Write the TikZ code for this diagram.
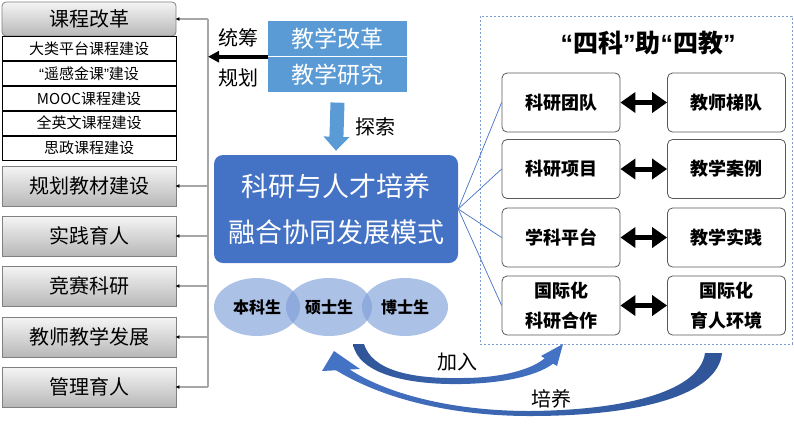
\documentclass[tikz,border=0pt]{standalone}
\usepackage{fontspec}
\setmainfont{Noto Sans CJK SC}
\newfontfamily\quotefont{Liberation Sans}
\usepackage{xcolor}
\usetikzlibrary{positioning}
\usetikzlibrary{arrows.meta}
\usetikzlibrary{shapes.geometric,calc}

\definecolor{lineblue}{HTML}{4472C4}
\definecolor{lightblue}{HTML}{5B9BD5}
\definecolor{darkblue}{HTML}{2F5597}
\definecolor{ellblue}{HTML}{7F9FD9}

\newcommand*{\openq}{{\quotefont “}}
\newcommand*{\closeq}{{\quotefont ”}}

\tikzset{
  graybox/.style={draw=black!50, line width=0.8pt, top color=black!4, bottom color=black!28,
    minimum width=174pt, minimum height=40pt, inner sep=0pt, font=\fontsize{20}{24}\selectfont},
  subbox/.style={draw=black, line width=0.8pt, fill=white, minimum width=174pt,
    minimum height=24pt, inner sep=0pt, font=\fontsize{15}{18}\selectfont},
  bluebox/.style={fill=lightblue, text=white, minimum width=139pt, minimum height=35pt,
    inner sep=0pt, font=\fontsize{23}{26}\selectfont},
  studell/.style={ellipse, fill=ellblue, fill opacity=0.65, text opacity=1, minimum width=86pt,
    minimum height=58pt, inner sep=0pt, font=\fontsize{16}{18}\selectfont\bfseries},
  kebox/.style={draw=black!65, line width=0.8pt, rounded corners=5pt, fill=white,
    minimum width=118pt, minimum height=59pt, inner sep=0pt, align=center,
    font=\fontsize{18}{30}\selectfont\bfseries},
  busarrow/.style={draw=black!35, line width=1.5pt, shorten >=-1pt,
    -{Latex[length=4pt,width=4pt,black]}},
  fanline/.style={draw=lineblue, line width=0.7pt},
  twoway/.style={line width=5pt, {Triangle[length=15pt,width=20pt]}-{Triangle[length=15pt,width=20pt]}},
  labeltext/.style={font=\fontsize{20}{22}\selectfont}
}

\begin{document}
\begin{tikzpicture}[x=1pt, y=-1pt]
\useasboundingbox (0,0) rectangle (794,424);

% left column
\node[graybox, rounded corners=4pt, minimum height=34pt] (kcgg) at (89,19) {课程改革};
\node[subbox, below=0pt of kcgg] (dlpt) {大类平台课程建设};
\node[subbox, below=0pt of dlpt] (ygjk) {\openq 遥感金课\closeq 建设};
\node[subbox, below=0pt of ygjk] (mooc) {MOOC课程建设};
\node[subbox, below=0pt of mooc] (qywk) {全英文课程建设};
\node[subbox, below=0pt of qywk] (szkc) {思政课程建设};

\foreach \nm/\txt/\yy in {ghjc/规划教材建设/186, sjyr/实践育人/236, jsky/竞赛科研/286,
    jsfz/教师教学发展/337, glyr/管理育人/387}
  \node[graybox] (\nm) at (89,\yy) {\txt};

% bus line
\coordinate (bus) at (208,0);
\draw[draw=black!35, line width=1.5pt] (bus |- kcgg.east) -- (bus |- glyr.east);
\foreach \nm in {kcgg, ghjc, sjyr, jsky, jsfz, glyr}
  \draw[busarrow] (bus |- \nm.east) -- (\nm.east);

% teaching reform
\node[bluebox] (jxgg) at (337.5,38.5) {教学改革};
\node[bluebox, below=1pt of jxgg] (jxyj) {教学研究};
\coordinate (jxmid) at ($(jxgg.south west)!0.5!(jxyj.north west)$);
\draw[line width=4pt, -{Triangle[length=11pt,width=11pt]}] (jxmid) -- (jxmid -| bus);
\node[labeltext] (tc) at (238,38) {统筹};
\node[labeltext] (gh) at (238,78) {规划};

% main model
\node[fill=lineblue, rounded corners=9pt, minimum width=244pt, minimum height=108pt,
    text=white, align=center, font=\fontsize{27}{46}\selectfont] (main) at (336,209)
    {科研与人才培养\\融合协同发展模式};

\draw[lightblue, line width=14pt, -{Triangle[length=14pt,width=25pt]}]
    ([yshift=-10pt]jxyj.south) -- ([yshift=4pt]main.north)
    node[midway, right=8pt, text=black, labeltext] (ts) {探索};

% students
\node[studell] (bks) at (257,307) {本科生};
\node[studell] (sss) at (329,307) {硕士生};
\node[studell] (bss) at (405,307) {博士生};

% four research / four teaching
\node[draw=lineblue!70, dash pattern=on 2pt off 2pt, line width=0.8pt, minimum width=312pt,
    minimum height=328pt, anchor=north west, inner sep=0pt] (frame) at (480,16) {};
\node[font=\fontsize{25}{28}\selectfont\bfseries] (title) at (648,43) {\openq 四科\closeq 助\openq 四教\closeq};

\foreach \ln/\lt/\rn/\rt/\yy in {kytd/科研团队/jstd/教师梯队/102.5,
    kyxm/科研项目/jxal/教学案例/169, xkpt/学科平台/jxsj/教学实践/237.5,
    gjhk/{国际化\\科研合作}/gjhy/{国际化\\育人环境}/305.5} {
  \node[kebox] (\ln) at (561,\yy) {\lt};
  \node[kebox] (\rn) at (726.5,\yy) {\rt};
  \draw[twoway] (\ln) -- (\rn);
  \draw[fanline] (main.east) -- (\ln.west);
}

% curved arrows
\shade[left color=darkblue, right color=lineblue] (353,344) .. controls (358,373) and (405,385) .. (462,384)
    .. controls (510,383) and (540,374) .. (554,363) -- (546,357)
    .. controls (535,368) and (505,378) .. (462,378) .. controls (410,379) and (372,370) .. (364,344) -- cycle;
\fill[lineblue] (563,344) -- (541,356) -- (557,366) -- cycle;
\node[labeltext] (jr) at (457,362) {加入};

\shade[left color=lineblue, right color=darkblue] (334,369) .. controls (380,398) and (450,416) .. (530,416)
    .. controls (640,416) and (718,395) .. (722,353) -- (705,353)
    .. controls (700,390) and (630,410) .. (530,411) .. controls (450,411) and (385,393) .. (349,369) -- cycle;
\fill[lineblue] (334,351) -- (322,371) -- (360,369) -- cycle;
\node[labeltext] (py) at (551,399) {培养};

\end{tikzpicture}
\end{document}
